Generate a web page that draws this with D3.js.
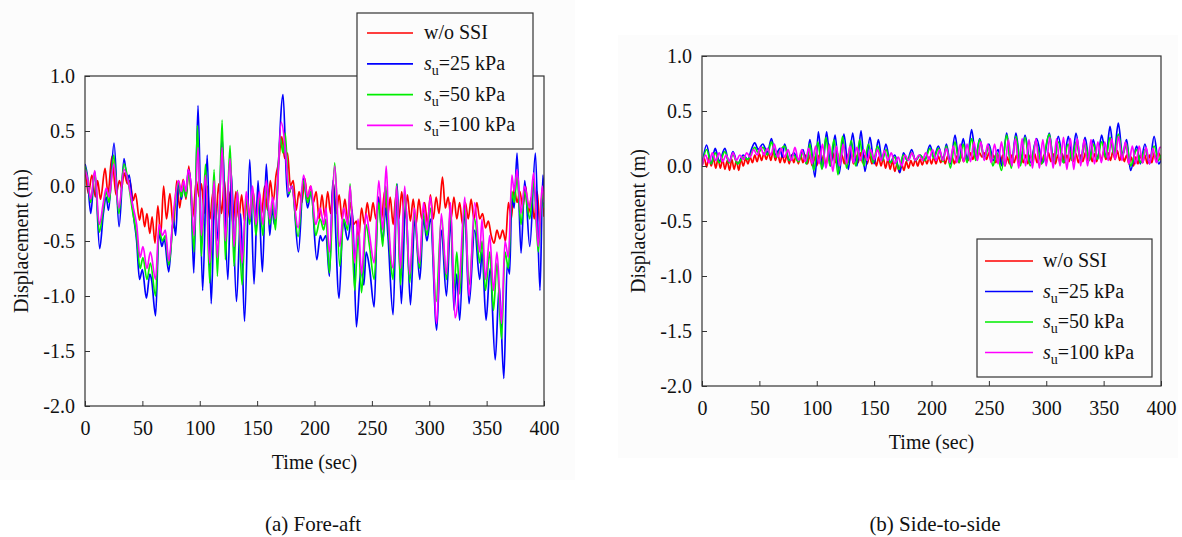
<!DOCTYPE html>
<html>
<head>
<meta charset="utf-8">
<script src="https://cdn.jsdelivr.net/npm/d3@7/dist/d3.min.js"></script>
<style>
  body { margin: 0; background: #fff; }
  svg text { font-family: "Liberation Serif", serif; fill: #111; }
</style>
</head>
<body>
<svg id="chart" width="1182" height="537"></svg>
<script>
// ---- data (time in sec, displacement in m) ----
var xTicks = [0, 50, 100, 150, 200, 250, 300, 350, 400]
var yTicks = [-2.0, -1.5, -1.0, -0.5, 0.0, 0.5, 1.0]
var legendLabels = ['w/o SSI', '25', '50', '100']
var colors = ['#ff0000', '#0000ff', '#00ee00', '#ff00ff']
var captions = ['(a) Fore-aft', '(b) Side-to-side']

// fore-aft, w/o SSI
var foreAftNoSSI = [[0,0.18],[3,-0.07],[6,0.1],[9,-0.1],[11,0.05],[13.5,-0.12],[17.5,0.16],[20,-0.07],[23.5,0.27],[27,-0.08],[30,0.05],[32,-0.02],[34,0.12],[37,0.02],[39,0.05],[42,-0.13],[44,-0.07],[47.5,-0.31],[49.5,-0.2],[52,-0.37],[54,-0.25],[56.5,-0.43],[58.5,-0.28],[61,-0.52],[63.5,-0.18],[66,-0.45],[68.5,0.0],[71,-0.3],[74,-0.07],[77,-0.38],[80,0.05],[82.5,-0.2],[85.5,0.06],[88,-0.12],[90.5,0.18],[94,-0.28],[97,0.05],[99.5,-0.1],[101.5,0.02],[104,-0.25],[106.5,0.0],[109,-0.3],[111.5,-0.05],[114,-0.32],[116.5,0.02],[119,-0.25],[121.5,0.05],[124,-0.3],[126.5,-0.05],[129,-0.35],[131.5,-0.05],[134,-0.3],[136.5,-0.08],[139,-0.32],[141.5,-0.1],[144,-0.32],[146.5,-0.05],[149,-0.28],[151.5,-0.05],[154,-0.25],[156.5,0.0],[159,-0.22],[161.5,0.05],[164,-0.15],[166.5,0.1],[168.5,0.2],[171.5,0.45],[174,0.25],[176.5,0.3],[179,0.0],[181.5,0.05],[184,-0.22],[186.5,-0.05],[189,-0.15],[191.5,0.07],[194,-0.12],[196.5,0.0],[199,-0.15],[201.5,-0.05],[204,-0.3],[206.5,-0.08],[209,-0.28],[211.5,-0.05],[214,-0.25],[216.5,0.02],[219,-0.25],[221.5,-0.08],[224,-0.3],[226.5,-0.12],[229,-0.32],[231.5,-0.15],[234,-0.35],[236.5,-0.32],[238.5,-0.48],[241,-0.2],[243.5,-0.35],[246,-0.15],[248.5,-0.32],[251,-0.15],[253.5,-0.3],[256,-0.1],[258.5,-0.3],[261,-0.05],[263.5,-0.3],[266,-0.1],[268.5,-0.35],[271,-0.08],[273.5,-0.3],[276,-0.05],[278.5,-0.3],[281,-0.08],[283.5,-0.32],[286,-0.12],[288.5,-0.35],[291,-0.12],[293.5,-0.3],[296,-0.15],[298.5,-0.35],[301,-0.08],[303.5,-0.3],[306,-0.1],[308.5,-0.25],[311.5,0.08],[314,-0.2],[316.5,-0.1],[319,-0.3],[321.5,-0.1],[324,-0.3],[326.5,-0.15],[329,-0.35],[331.5,-0.15],[334,-0.3],[336.5,-0.12],[339,-0.3],[341.5,-0.15],[344,-0.3],[346.5,-0.25],[349,-0.38],[351.5,-0.32],[354,-0.45],[356.5,-0.52],[359,-0.4],[361.5,-0.48],[364,-0.4],[366.5,-0.5],[369,-0.15],[371.5,-0.3],[374,0.0],[376.5,-0.15],[379,-0.05],[381.5,-0.2],[384,0.0],[386.5,-0.25],[389,-0.1],[391.5,-0.3],[394,-0.05],[396.5,-0.35],[399,0.0],[400,-0.28]]

// fore-aft, su = 25 kPa
var foreAftSu25 = [[0,0.2],[2,0.1],[5,-0.25],[8.5,0.13],[12.8,-0.57],[16,-0.25],[18.5,-0.1],[20.5,-0.22],[25.3,0.39],[29.7,-0.37],[34,0.25],[37,0.05],[38.5,0.1],[42,-0.25],[45,-0.5],[47.5,-0.85],[50,-0.76],[53.5,-1.02],[56.5,-0.8],[58,-0.85],[61.5,-1.18],[64.5,-0.42],[67,-0.55],[69,-0.48],[73,-0.78],[77,-0.3],[79,-0.45],[81.5,0.05],[84,-0.12],[86,0.0],[88,-0.1],[90,0.15],[92,0.05],[94.8,-0.79],[98.5,0.73],[102.5,-0.95],[106.5,0.28],[110,-1.07],[113,-0.1],[116,-0.5],[119.5,0.45],[124.5,-0.85],[127.5,0.12],[132,-1.05],[135.7,-0.25],[139,-1.23],[143.6,0.24],[147.3,-0.89],[150.8,0.05],[154.6,-0.78],[158,0.2],[161,-0.45],[163,-0.2],[165,-0.35],[172.6,0.83],[176.4,-0.1],[180.5,0.0],[186,-0.6],[190.5,0.07],[194,-0.2],[197,-0.05],[202,-0.67],[205,-0.45],[207,-0.5],[210,-0.45],[213,-0.82],[216,0.05],[221.4,-1.02],[225,-0.31],[229,-0.49],[233,-0.22],[236.5,-1.28],[240.5,-0.75],[243,-0.9],[245,-0.6],[248,-0.75],[252,-1.1],[255.5,-0.1],[259.5,-0.5],[262,-0.2],[264,-0.45],[268.5,-1.17],[272,0.02],[275.7,-1.07],[279.5,-0.15],[283.6,-1.08],[287.4,-0.31],[291.8,-0.85],[295,-0.3],[298,-0.5],[301,-0.3],[306.5,-1.31],[310.5,-0.4],[315,-1.0],[318.7,-0.31],[321.6,-1.13],[324,-0.8],[326.5,-1.22],[330.9,-0.25],[334.7,-1.07],[339.6,-0.4],[344,-0.85],[346,-0.6],[349.5,-1.22],[353,-0.75],[357.5,-1.58],[361,-0.9],[365,-1.75],[368,-0.7],[370,-0.8],[372,-0.1],[374,-0.2],[376.5,0.3],[380,-0.61],[383.2,0.05],[387.6,-0.55],[392.5,0.3],[396.5,-0.95],[399,0.1],[400,-0.05]]

// fore-aft, su = 50 kPa
var foreAftSu50 = [[0,0.18],[2.5,0.05],[5,-0.15],[8.5,0.12],[12.5,-0.42],[16,-0.2],[18.5,-0.05],[21,-0.15],[25,0.28],[29.5,-0.25],[34,0.2],[37.5,0.05],[41,-0.2],[45,-0.45],[48,-0.75],[50.5,-0.65],[54,-0.85],[57,-0.7],[61.5,-1.0],[64.5,-0.4],[67.5,-0.5],[70,-0.45],[73,-0.72],[77,-0.3],[81.5,0.03],[84,-0.1],[86,0.0],[88,-0.1],[90,0.1],[92,0.0],[95,-0.6],[98,0.55],[101.4,-0.64],[105,0.2],[108.7,-0.88],[112.5,0.15],[115.4,-0.82],[119.5,0.6],[122.3,-0.67],[126.4,0.37],[129.9,-0.73],[132.8,-0.04],[136.9,-0.9],[140.5,-0.1],[143.5,-0.35],[146,-0.05],[149,-0.45],[152,-0.1],[155,-0.45],[158,0.0],[161,-0.35],[163.5,-0.15],[166,-0.4],[170,0.45],[172.5,0.3],[174.5,0.48],[177.6,-0.07],[180,0.0],[185.7,-0.46],[190.5,0.05],[194,-0.15],[197,-0.05],[201,-0.45],[205,-0.3],[208,-0.4],[210,-0.3],[213,-0.79],[217.6,0.21],[222,-0.73],[225.5,-0.3],[229,-0.4],[231,0.02],[235,-0.95],[238,-0.45],[241,-0.97],[245,-0.35],[248,-0.55],[252,-0.85],[256,-0.15],[259.5,-0.55],[262,0.0],[264.5,-0.4],[268.5,-0.85],[271.5,0.02],[275,-0.9],[278.6,-0.05],[283,-0.88],[287,-0.25],[291.5,-0.75],[295,-0.25],[298,-0.45],[301,-0.2],[306,-1.05],[310.5,-0.3],[315,-0.85],[318.5,-0.2],[321.5,-0.95],[324,-0.6],[326.5,-0.98],[331,-0.2],[334.7,-0.9],[339.6,-0.3],[344,-0.7],[346,-0.5],[349,-0.95],[352.7,-0.6],[356,-1.13],[359,-0.7],[363,-1.39],[366,-0.6],[369,-0.75],[372,-0.05],[374,-0.15],[376.5,0.08],[380,-0.35],[383,-0.05],[387.6,-0.3],[391,0.05],[395,-0.6],[398.5,-0.05],[400,-0.2]]

// fore-aft, su = 100 kPa
var foreAftSu100 = [[0,0.15],[2.5,0.05],[5,-0.12],[8.5,0.14],[12.5,-0.35],[16,-0.15],[18.5,-0.02],[21,-0.1],[25,0.2],[29.5,-0.2],[34,0.15],[37.5,0.05],[41,-0.15],[45,-0.35],[48,-0.65],[50.5,-0.55],[54,-0.75],[57,-0.6],[61.5,-0.85],[64.5,-0.35],[67.5,-0.45],[70,-0.4],[73,-0.68],[77,-0.25],[81.5,0.05],[84,-0.05],[86,0.05],[88,-0.05],[90,0.15],[92,0.05],[95,-0.45],[98.5,0.35],[101.4,-0.45],[105,0.1],[108.7,-0.7],[112.5,0.05],[115.4,-0.65],[119.5,0.35],[122.3,-0.5],[126.4,0.25],[129.9,-0.55],[132.8,-0.05],[136.9,-0.7],[140.5,-0.05],[143.5,-0.3],[146,0.0],[149,-0.35],[152,-0.05],[155,-0.35],[158,0.05],[161,-0.3],[163.5,-0.1],[166,-0.3],[171,0.58],[174.5,0.35],[177.6,-0.05],[180,0.0],[185.7,-0.38],[190.5,0.1],[194,-0.1],[197,0.0],[201,-0.35],[205,-0.2],[208,-0.35],[210,-0.2],[213,-0.6],[217.6,0.18],[222,-0.55],[225.5,-0.2],[229,-0.35],[231,0.0],[235,-0.7],[238,-0.3],[241,-0.8],[245,-0.25],[248,-0.45],[252,-0.7],[256,0.05],[259.5,-0.4],[262.5,0.18],[264.5,-0.3],[268.5,-0.75],[271.5,0.0],[275,-0.75],[278.6,0.0],[283,-0.8],[287,-0.2],[291.5,-0.7],[295,-0.15],[298,-0.4],[301,-0.1],[306.5,-1.25],[310.5,-0.25],[315,-0.8],[318.5,-0.15],[322.5,-1.2],[326.5,-0.85],[331,-0.1],[334.7,-1.0],[339.6,-0.15],[344,-0.6],[346,-0.3],[349,-0.85],[352.7,-0.45],[356,-0.95],[359,-0.6],[363,-1.25],[366,-0.5],[369,-0.65],[372,0.1],[374,-0.05],[376.5,0.15],[380,-0.25],[383,0.0],[387.6,-0.2],[391,0.12],[395,-0.55],[398.5,0.0],[400,-0.15]]

// side-to-side, w/o SSI
var sideNoSSI = [[0,0.0],[2,0.07],[4,-0.01],[6,0.08],[8,0.0],[10,0.07],[12,-0.02],[14,0.07],[16,-0.02],[18,0.06],[20,-0.03],[22,0.05],[24,-0.04],[26,0.06],[28,-0.03],[30,0.05],[32,-0.04],[34,0.06],[36,0.0],[38,0.07],[40,0.02],[42,0.08],[44,0.03],[46,0.1],[48,0.04],[50,0.11],[52,0.05],[54,0.12],[56,0.06],[58,0.12],[60,0.05],[62,0.14],[64,0.05],[66,0.12],[68,0.03],[70,0.1],[72,0.03],[74,0.1],[76,0.02],[78,0.1],[80,0.03],[82,0.1],[84,0.02],[86,0.1],[88,0.03],[90,0.1],[92,0.02],[94,0.1],[96,0.0],[98,0.08],[100,0.0],[102,0.1],[104,0.02],[106,0.1],[108,0.01],[110,0.1],[112,0.02],[114,0.12],[116,0.03],[118,0.12],[120,0.02],[122,0.1],[124,0.02],[126,0.11],[128,0.03],[130,0.12],[132,0.02],[134,0.1],[136,0.03],[138,0.12],[140,0.03],[142,0.1],[144,0.02],[146,0.1],[148,0.02],[150,0.08],[152,0.0],[154,0.08],[156,0.0],[158,0.07],[160,-0.02],[162,0.06],[164,-0.03],[166,0.05],[168,-0.05],[170,0.02],[172,-0.06],[174,0.02],[176,-0.04],[178,0.04],[180,-0.02],[182,0.05],[184,0.0],[186,0.06],[188,0.0],[190,0.06],[192,0.01],[194,0.07],[196,0.02],[198,0.08],[200,0.02],[202,0.08],[204,0.02],[206,0.09],[208,0.03],[210,0.08],[212,0.02],[214,0.09],[216,0.02],[218,0.08],[220,0.02],[222,0.09],[224,0.03],[226,0.1],[228,0.04],[230,0.1],[232,0.05],[234,0.12],[236,0.06],[238,0.12],[240,0.08],[242,0.12],[244,0.08],[246,0.12],[248,0.06],[250,0.12],[252,0.04],[254,0.1],[256,0.03],[258,0.1],[260,0.02],[262,0.1],[264,0.0],[266,0.08],[268,0.02],[270,0.1],[272,0.03],[274,0.1],[276,0.02],[278,0.1],[280,0.03],[282,0.1],[284,0.02],[286,0.1],[288,0.03],[290,0.11],[292,0.03],[294,0.1],[296,0.02],[298,0.1],[300,0.03],[302,0.12],[304,0.04],[306,0.11],[308,0.02],[310,0.1],[312,0.03],[314,0.11],[316,0.03],[318,0.1],[320,0.04],[322,0.12],[324,0.04],[326,0.11],[328,0.03],[330,0.1],[332,0.04],[334,0.12],[336,0.05],[338,0.12],[340,0.04],[342,0.11],[344,0.04],[346,0.12],[348,0.05],[350,0.13],[352,0.06],[354,0.12],[356,0.05],[358,0.13],[360,0.06],[362,0.14],[364,0.05],[366,0.12],[368,0.04],[370,0.1],[372,0.02],[374,0.08],[376,0.0],[378,0.08],[380,0.02],[382,0.1],[384,0.03],[386,0.1],[388,0.02],[390,0.1],[392,0.03],[394,0.12],[396,0.04],[398,0.12],[400,0.05]]

// side-to-side, su = 25 kPa
var sideSu25 = [[0,0.0],[4,0.19],[8,0.02],[11.5,0.16],[15,0.04],[20,0.16],[23.5,0.03],[27,0.13],[31,0.02],[36,0.1],[40,0.06],[43,0.15],[46,0.21],[49,0.15],[53,0.2],[57,0.12],[60.5,0.25],[64,0.1],[68,0.16],[70,0.08],[72,0.2],[76,0.05],[80,0.12],[84,0.05],[88,0.15],[91,0.02],[94,0.24],[98.5,-0.1],[101.4,0.31],[105,-0.02],[108.6,0.31],[112,0.0],[116,0.28],[119.5,-0.07],[123.7,0.29],[127.5,-0.03],[131.3,0.3],[135,0.0],[138.6,0.32],[142,-0.05],[146.4,0.26],[150,0.02],[153.7,0.24],[157,0.05],[160.3,0.2],[164,0.03],[168,0.1],[172.5,-0.06],[175.5,0.12],[179,0.05],[182.7,0.15],[186,0.05],[190,0.1],[194,0.05],[198.7,0.19],[202,0.08],[206,0.18],[210,0.05],[213,0.2],[216.5,0.02],[220.5,0.28],[224,0.05],[227.7,0.25],[231,0.05],[235,0.33],[238.5,0.08],[242,0.25],[246,0.08],[250,0.2],[254,0.05],[258,0.15],[261.5,0.0],[265.5,0.3],[269.5,0.0],[273.6,0.3],[277.5,0.02],[281.5,0.28],[286,0.03],[291.6,0.25],[297,0.03],[302.7,0.3],[306.5,0.03],[310.5,0.27],[315,0.03],[319.3,0.27],[322.5,0.05],[325.9,0.3],[330,0.05],[333.8,0.26],[337.5,0.05],[341,0.24],[344.5,0.06],[348.3,0.28],[352,0.08],[355.6,0.36],[359,0.1],[362.8,0.39],[366.5,0.1],[370,0.24],[373.5,-0.04],[378.8,0.18],[382,0.02],[386,0.2],[390,0.02],[394,0.27],[398,0.02],[400,0.05]]

// side-to-side, su = 50 kPa
var sideSu50 = [[0,0.0],[4,0.15],[8,0.02],[11.5,0.12],[15,0.03],[20,0.13],[23.5,0.03],[27,0.1],[31,0.02],[36,0.08],[40,0.06],[43,0.12],[46,0.17],[49,0.12],[53,0.17],[57,0.1],[60.5,0.22],[64,0.08],[68,0.14],[72,0.18],[76,0.05],[80,0.1],[84,0.04],[88,0.12],[91,0.02],[94,0.2],[97.5,-0.04],[101,0.22],[104.5,-0.03],[108,0.26],[111.5,0.0],[115,0.24],[118.5,-0.08],[122.5,0.27],[126,-0.02],[130,0.23],[134,0.0],[137.5,0.24],[141,0.0],[145,0.2],[149,0.03],[153,0.18],[157,0.05],[160.5,0.15],[164,0.03],[168,0.08],[171.5,-0.03],[175.5,0.1],[179,0.05],[182.7,0.12],[186,0.05],[190,0.1],[194,0.05],[198.7,0.16],[202,0.07],[206,0.16],[210,0.04],[213,0.18],[216.5,-0.02],[220.5,0.22],[224,0.03],[227.7,0.2],[231,0.03],[235,0.25],[238.5,0.05],[242,0.24],[246,0.06],[250,0.18],[253.5,0.0],[257,0.12],[261,-0.04],[265.5,0.28],[269.5,-0.02],[273.6,0.27],[277.5,0.0],[281.5,0.26],[286,0.0],[291,0.22],[296,0.02],[302.7,0.29],[306.5,0.02],[310.5,0.22],[315,0.03],[319,0.2],[322.5,0.05],[326,0.22],[330,0.05],[334,0.2],[337.5,0.05],[341,0.2],[344.5,0.06],[348.3,0.22],[352,0.08],[355.6,0.26],[359,0.1],[362.8,0.29],[366.5,0.1],[370,0.2],[373.5,0.0],[378.8,0.15],[382,0.03],[386,0.15],[390,0.04],[394,0.18],[398,0.05],[400,0.1]]

// side-to-side, su = 100 kPa
var sideSu100 = [[0,0.0],[3,0.1],[6,0.03],[9,0.12],[12,0.05],[15,0.12],[18,0.04],[21,0.1],[24,0.04],[27,0.12],[30,0.05],[33,0.1],[36,0.06],[39,0.12],[42,0.08],[45,0.15],[48,0.1],[51,0.17],[54,0.1],[57,0.16],[60,0.1],[63,0.2],[66,0.08],[69,0.16],[72,0.08],[75,0.15],[78,0.05],[81,0.17],[84,0.05],[87,0.15],[90,0.04],[93,0.16],[96,0.02],[99,0.18],[102,0.02],[105,0.2],[108,-0.02],[111,0.2],[114,-0.05],[117,0.18],[120,0.0],[123,0.2],[126,0.02],[129,0.18],[132,0.03],[135,0.17],[138,0.05],[141,0.15],[144,0.05],[147,0.15],[150,0.06],[153,0.15],[156,0.05],[159,0.14],[162,0.05],[165,0.12],[168,0.02],[171,0.08],[174,0.0],[177,0.1],[180,0.05],[183,0.12],[186,0.05],[189,0.1],[192,0.05],[195,0.12],[198,0.06],[201,0.15],[204,0.05],[207,0.15],[210,0.05],[213,0.16],[216,0.03],[219,0.18],[222,0.03],[225,0.2],[228,0.04],[231,0.2],[234,0.04],[237,0.22],[240,0.05],[243,0.22],[246,0.05],[249,0.2],[252,0.03],[255,0.2],[258,0.02],[261,0.22],[264,0.0],[267,0.24],[270,0.0],[273,0.25],[276,-0.02],[279,0.25],[282,0.0],[285,0.24],[288,-0.02],[291,0.25],[294,-0.02],[297,0.24],[300,0.0],[303,0.26],[306,-0.02],[309,0.25],[312,0.0],[315,0.26],[318,-0.03],[321,0.25],[324,-0.03],[327,0.25],[330,0.0],[333,0.24],[336,0.0],[339,0.24],[342,0.02],[345,0.22],[348,0.03],[351,0.22],[354,0.05],[357,0.25],[360,0.06],[363,0.27],[366,0.05],[369,0.22],[372,0.02],[375,0.18],[378,0.02],[381,0.18],[384,0.03],[387,0.17],[390,0.02],[393,0.16],[396,0.03],[399,0.17],[400,0.17]]

// ---- layout ----
var panels = [
  { x0: 85, x1: 544, y0: 76, y1: 406, series: [foreAftNoSSI, foreAftSu25, foreAftSu50, foreAftSu100],
    legend: { x: 357, y: 13, w: 176, h: 136, lineX: 10, lineW: 46, textX: 67, row0: 20, rowH: 30.8 },
    caption: { x: 313, y: 531 }, bg: [0, 0, 575, 480] },
  { x0: 702, x1: 1161, y0: 56, y1: 386, series: [sideNoSSI, sideSu25, sideSu50, sideSu100],
    legend: { x: 977, y: 239, w: 175, h: 138, lineX: 8, lineW: 48, textX: 66, row0: 22, rowH: 30.5 },
    caption: { x: 935, y: 531 }, bg: [618, 35, 560, 423] }
]

var svg = d3.select('#chart')

panels.forEach(function(p, i) {
  var g = svg.append('g')

  g.append('rect')
    .attr('x', p.bg[0]).attr('y', p.bg[1])
    .attr('width', p.bg[2]).attr('height', p.bg[3])
    .attr('fill', '#fcfcfc')

  var x = d3.scaleLinear().domain([0, 400]).range([p.x0, p.x1])
  var y = d3.scaleLinear().domain([-2, 1]).range([p.y1, p.y0])

  var clipId = 'clip' + i
  g.append('clipPath').attr('id', clipId)
    .append('rect')
    .attr('x', p.x0).attr('y', p.y0)
    .attr('width', p.x1 - p.x0).attr('height', p.y1 - p.y0)

  var line = d3.line()
    .x(d => x(d[0]))
    .y(d => y(d[1]))
    .curve(d3.curveMonotoneX)

  g.append('g')
    .attr('clip-path', 'url(#' + clipId + ')')
    .selectAll('path')
    .data(p.series)
    .enter()
    .append('path')
    .attr('d', d => line(d))
    .attr('fill', 'none')
    .attr('stroke', (d, j) => colors[j])
    .attr('stroke-width', 1.7)
    .attr('stroke-linejoin', 'round')

  // axes, ticks pointing inward
  var xAxis = d3.axisBottom(x)
    .tickValues(xTicks)
    .tickSizeInner(-5)
    .tickSizeOuter(0)
    .tickPadding(15)
    .tickFormat(d3.format('d'))
  var yAxis = d3.axisLeft(y)
    .tickValues(yTicks)
    .tickSizeInner(-5)
    .tickSizeOuter(0)
    .tickPadding(10)
    .tickFormat(d => d.toFixed(1))

  var gx = g.append('g').attr('transform', 'translate(0,' + p.y1 + ')').call(xAxis)
  var gy = g.append('g').attr('transform', 'translate(' + p.x0 + ',0)').call(yAxis)
  ;[gx, gy].forEach(function(a) {
    a.attr('font-family', null).attr('font-size', 20)
    a.select('.domain').remove()
    a.selectAll('line').attr('stroke', '#333')
    a.selectAll('text').attr('fill', '#111')
  })

  g.append('rect')
    .attr('x', p.x0).attr('y', p.y0)
    .attr('width', p.x1 - p.x0).attr('height', p.y1 - p.y0)
    .attr('fill', 'none')
    .attr('stroke', '#333')
    .attr('stroke-width', 1.2)

  g.append('text')
    .attr('x', (p.x0 + p.x1) / 2)
    .attr('y', p.y1 + 63)
    .attr('text-anchor', 'middle')
    .attr('font-size', 20)
    .text('Time (sec)')

  g.append('text')
    .attr('transform', 'translate(' + (p.x0 - 57) + ',' + (p.y0 + p.y1) / 2 + ') rotate(-90)')
    .attr('text-anchor', 'middle')
    .attr('font-size', 20)
    .text('Displacement (m)')

  g.append('text')
    .attr('x', p.caption.x)
    .attr('y', p.caption.y)
    .attr('text-anchor', 'middle')
    .attr('font-size', 21)
    .text(captions[i])

  // legend
  var L = p.legend
  var lg = g.append('g').attr('transform', 'translate(' + L.x + ',' + L.y + ')')
  lg.append('rect')
    .attr('width', L.w).attr('height', L.h)
    .attr('fill', '#fcfcfc')
    .attr('stroke', '#333')
    .attr('stroke-width', 1.2)

  var rows = lg.selectAll('.row')
    .data(legendLabels)
    .enter()
    .append('g')
    .attr('class', 'row')
    .attr('transform', (d, j) => 'translate(0,' + (L.row0 + j * L.rowH) + ')')

  rows.append('line')
    .attr('x1', L.lineX).attr('x2', L.lineX + L.lineW)
    .attr('stroke', (d, j) => colors[j])
    .attr('stroke-width', 1.7)

  rows.each(function(d, j) {
    var t = d3.select(this).append('text')
      .attr('x', L.textX)
      .attr('y', 6)
      .attr('font-size', 20)
    if (j === 0) {
      t.text(d)
    } else {
      t.append('tspan').attr('font-style', 'italic').text('s')
      t.append('tspan').attr('font-size', 14).attr('dy', 5).text('u')
      t.append('tspan').attr('dy', -5).text('=' + d + ' kPa')
    }
  })
})
</script>
</body>
</html>
